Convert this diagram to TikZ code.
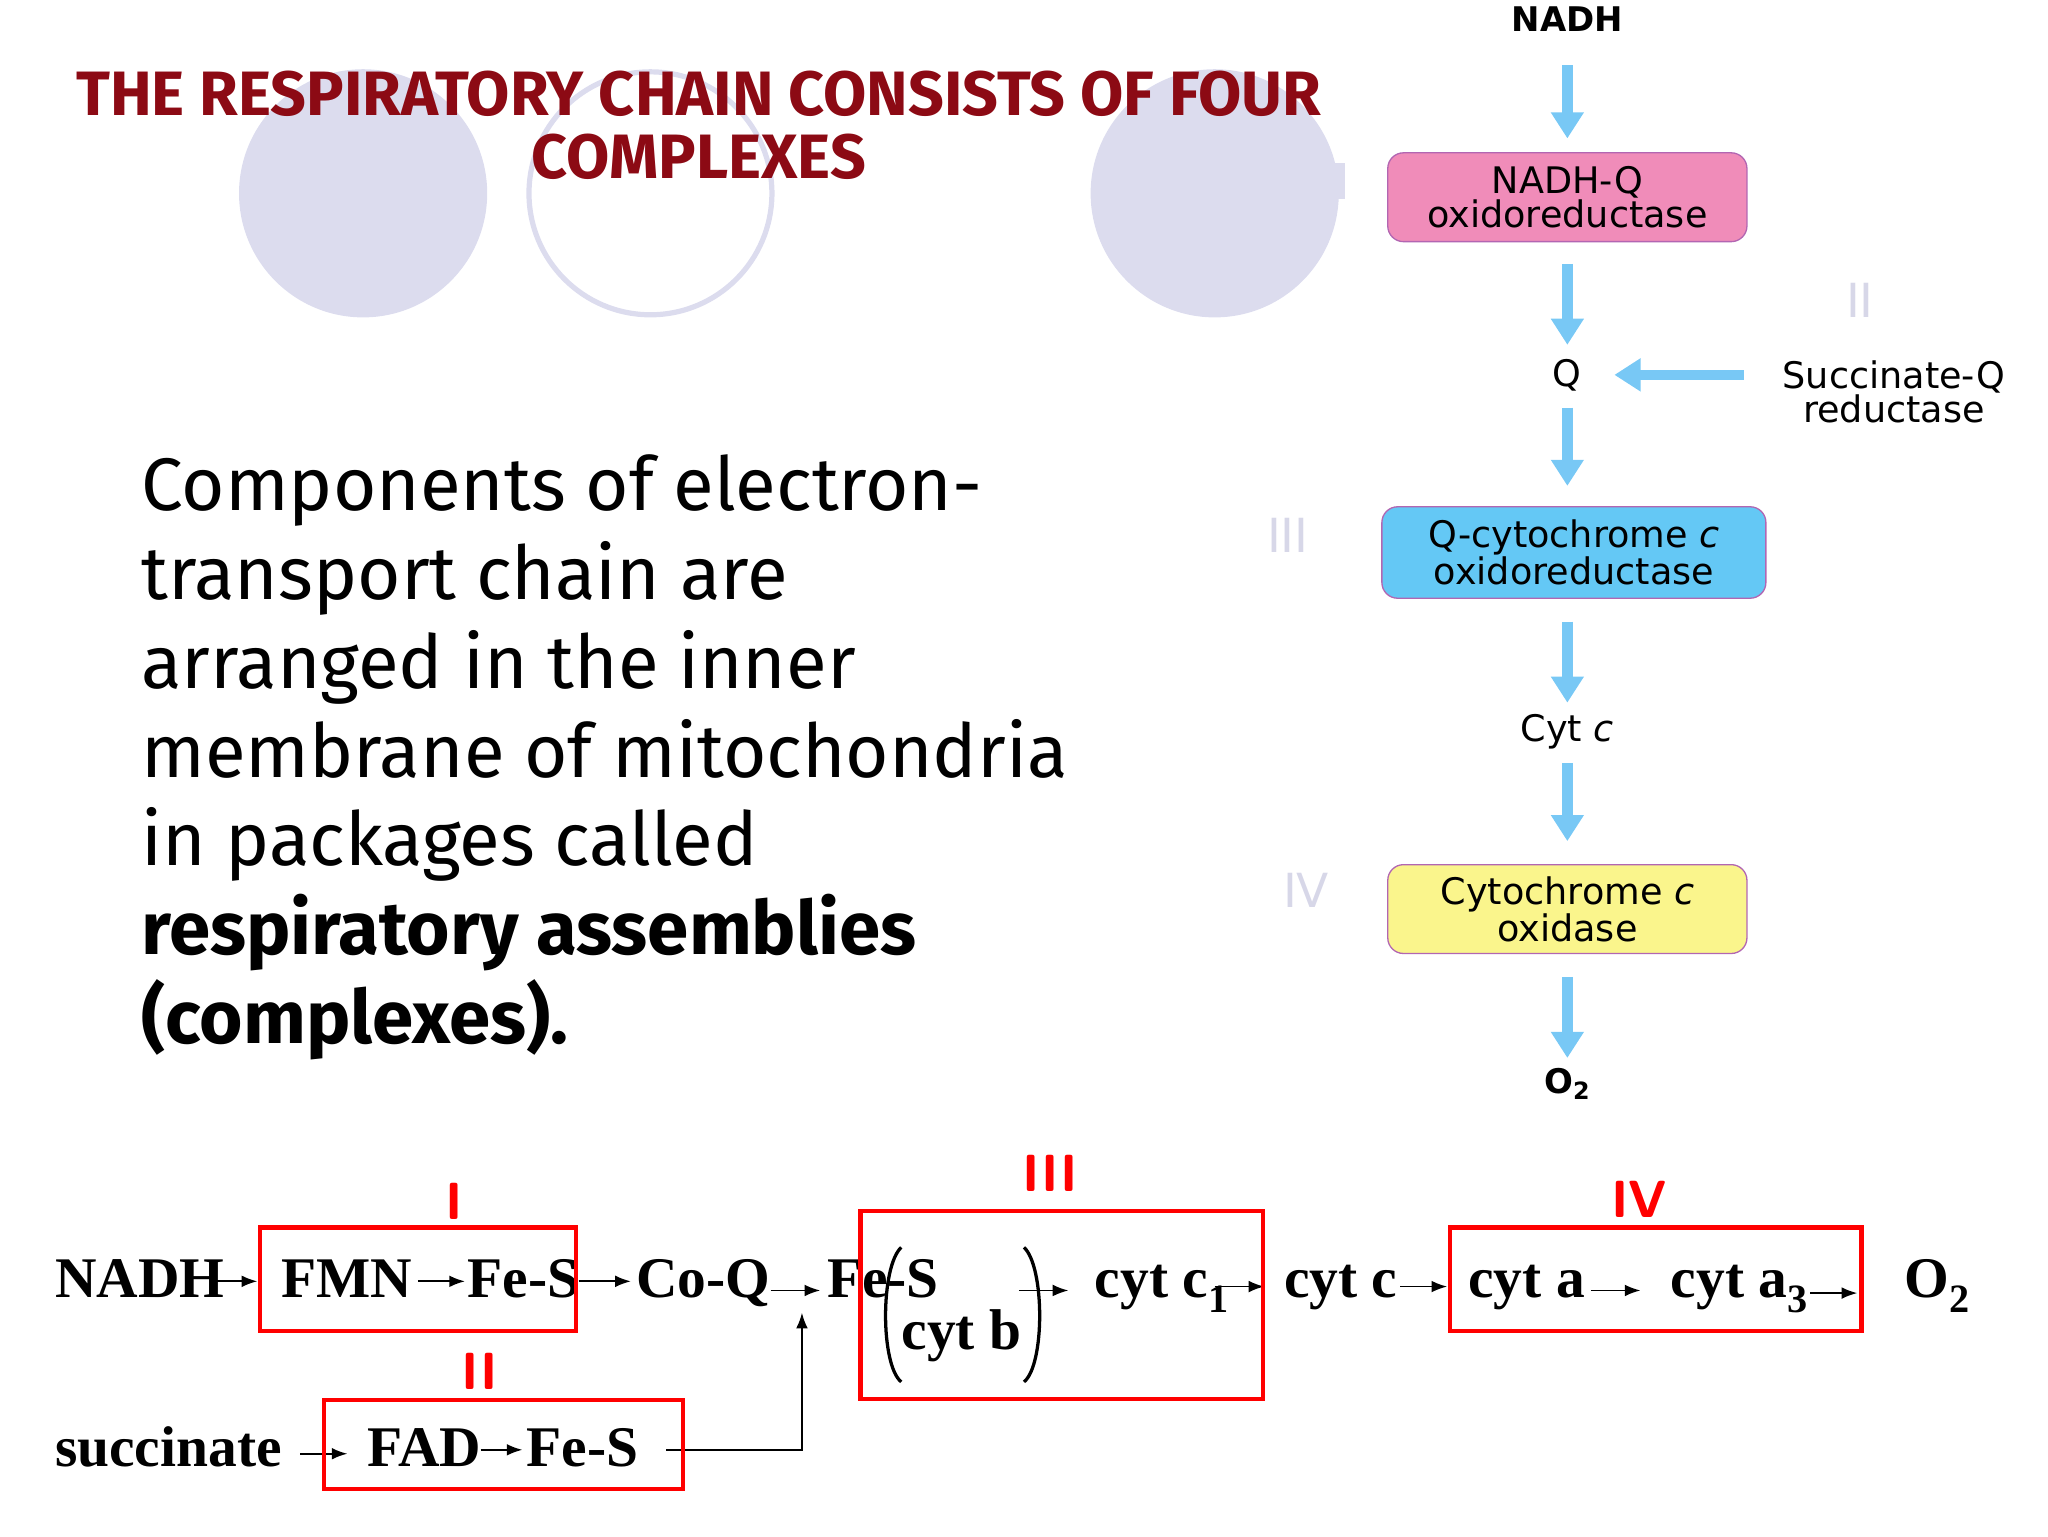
\documentclass[tikz,border=0pt]{standalone}
\usepackage{fontspec}
\setmainfont{Liberation Serif}
\newfontfamily\bodyf{Fira Sans}
\newfontfamily\diagf{DejaVu Sans}
\newfontfamily\titlef{Fira Sans}
\usetikzlibrary{arrows.meta}
\definecolor{lav}{RGB}{220,220,238}
\definecolor{titred}{RGB}{140,10,20}
\definecolor{pinkb}{RGB}{240,140,185}
\definecolor{blueb}{RGB}{100,200,245}
\definecolor{yelb}{RGB}{250,245,140}
\definecolor{arrb}{RGB}{120,200,245}
\definecolor{romg}{RGB}{215,215,232}
\tikzset{
  bl/.style={line width=8pt,draw=arrb,-{Triangle[width=24pt,length=20pt]}},
  cbox/.style={draw=violet!60,rounded corners=12pt,line width=1pt,align=center,font=\diagf\fontsize{28}{26}\selectfont,inner sep=4pt},
  dlab/.style={font=\diagf\fontsize{28}{26}\selectfont,align=center},
  rom/.style={font=\diagf\fontsize{36}{36}\selectfont,text=romg},
  tt/.style={font=\bfseries\fontsize{44}{44}\selectfont,inner sep=0pt,anchor=base west},
  rbox/.style={draw=red,line width=3.5pt},
  rn/.style={font=\sffamily\bfseries\fontsize{40}{40}\selectfont,text=red},
  sa/.style={-{Latex[length=12pt,width=9pt]},line width=1.4pt}
}
\begin{document}
\begin{tikzpicture}[x=1pt,y=-1pt]
\useasboundingbox (0,0) rectangle (1568,1176);
% circles
\fill[lav] (278,148) circle (95);
\draw[lav,line width=4pt] (498,148) circle (93);
\fill[lav] (930,148) circle (95);
\fill[lav] (1021,125) rectangle (1030,152);
% title
\node[font=\titlef\bfseries\fontsize{48}{48}\selectfont,text=titred,align=center] (title) at (535,96) {THE RESPIRATORY CHAIN CONSISTS OF FOUR\\COMPLEXES};
% body
\node[font=\bodyf\fontsize{57}{68}\selectfont,align=left,anchor=north west,inner sep=0pt] (body) at (108,348)
 {Components of electron-\\transport chain are\\arranged in the inner\\membrane of mitochondria\\in packages called\\\textbf{respiratory assemblies}\\\textbf{(complexes).}};
% right diagram
\node[font=\diagf\bfseries\fontsize{26}{26}\selectfont] (nadh) at (1200,15) {NADH};
\node[cbox,fill=pinkb,minimum width=275pt,minimum height=68pt] (c1) at (1200,151) {NADH-Q\\oxidoreductase};
\node[dlab] (q) at (1200,287) {Q};
\node[dlab] (sq) at (1450,300) {Succinate-Q\\reductase};
\node[cbox,fill=blueb,minimum width=294pt,minimum height=70pt] (c3) at (1205,423) {Q-cytochrome \textit{c}\\oxidoreductase};
\node[dlab] (cytc) at (1200,560) {Cyt \textit{c}};
\node[cbox,fill=yelb,minimum width=275pt,minimum height=68pt] (c4) at (1200,696) {Cytochrome \textit{c}\\oxidase};
\node[font=\diagf\bfseries\fontsize{26}{26}\selectfont] (o2) at (1200,830) {O\textsubscript{2}};
\node[rom] at (1424,230) {II};
\node[rom] at (986,410) {III};
\node[rom] at (1000,682) {IV};
\draw[bl] (nadh.south) ++(0,22) -- ++(0,56);
\draw[bl] (1200,202) -- (1200,264);
\draw[bl] (1200,312) -- (1200,372);
\draw[bl] (1200,476) -- (1200,538);
\draw[bl] (1200,584) -- (1200,644);
\draw[bl] (1200,748) -- (1200,810);
\draw[bl] (1335,287) -- (1236,287);
% bottom row
\node[tt] (nadh2) at (42,993) {NADH};
\node[tt] (fmn) at (215,993) {FMN};
\node[tt] (fes1) at (358,993) {Fe-S};
\node[tt] (coq) at (487,993) {Co-Q};
\node[tt] (fes2) at (633,993) {Fe-S};
\node[tt] (cytb) at (690,1033) {cyt b};
\node[tt] (cytc1) at (838,993) {cyt c\textsubscript{1}};
\node[tt] (cytc2) at (983,993) {cyt c};
\node[tt] (cyta) at (1124,993) {cyt a};
\node[tt] (cyta3) at (1279,993) {cyt a\textsubscript{3}};
\node[tt] (o2b) at (1458,993) {O\textsubscript{2}};
\node[tt] (succ) at (42,1123) {succinate};
\node[tt] (fad) at (281,1123) {FAD};
\node[tt] (fes3) at (403,1123) {Fe-S};
\draw[line width=2.5pt] (690,955) .. controls (674,970) and (674,1045) .. (690,1058);
\draw[line width=2.5pt] (784,955) .. controls (800,970) and (800,1045) .. (784,1058);
\draw[sa] (165,981) -- (197,981);
\draw[sa] (320,981) -- (356,981);
\draw[sa] (443,981) -- (483,981);
\draw[sa] (590,988) -- (628,988);
\draw[sa] (780,988) -- (818,988);
\draw[sa] (930,985) -- (968,985);
\draw[sa] (1072,985) -- (1108,985);
\draw[sa] (1218,988) -- (1256,988);
\draw[sa] (1386,990) -- (1422,990);
\draw[sa] (230,1113) -- (266,1113);
\draw[sa] (368,1110) -- (400,1110);
\coordinate (jn) at (614,1110);
\draw[sa] (510,1110) -- (jn) -- (614,1005);
\draw[rbox] (199,940) rectangle (441,1019);
\draw[rbox] (659,927) rectangle (967,1071);
\draw[rbox] (1110,940) rectangle (1425,1019);
\draw[rbox] (248,1072) rectangle (523,1140);
\node[rn] at (348,920) {I};
\node[rn] at (804,898) {III};
\node[rn] at (1255,918) {IV};
\node[rn] at (367,1050) {II};
\end{tikzpicture}
\end{document}
